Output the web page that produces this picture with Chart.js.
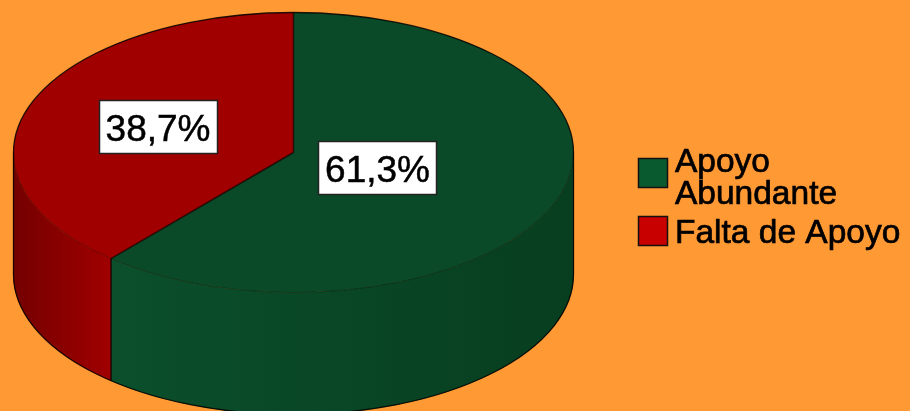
<!DOCTYPE html>
<html><head><meta charset="utf-8">
<script src="https://cdn.jsdelivr.net/npm/chart.js@4.4.1/dist/chart.umd.min.js"></script>
<style>html,body{margin:0;padding:0;background:#ff9933;overflow:hidden}#wrap{position:relative;width:910px;height:411px}</style>
</head><body><div id="wrap"><canvas id="c" width="910" height="411"></canvas></div>
<script>
// ---- data ----
const categories = ['Apoyo Abundante', 'Falta de Apoyo'];
const values = [61.3, 38.7];
const topColors = ['#0a4a28', '#a00000'];
const sideColorsLeft = ['#0b4f2c', '#740000'];
const sideColorsRight = ['#073e1f', '#a00000'];
const legendColors = ['#0a5a30', '#c80000'];

// ---- styling ----
const BG = '#ff9933';
const SX = 2;        // horizontal stretch of the pie (ellipse)
const DEPTH = 122;   // thickness of the cylinder
const LABEL_R = [0.32, 0.516];
const FONT = '"Liberation Sans", Arial, sans-serif';

function fmt(v, total) { return (v / total * 100).toFixed(1).replace('.', ',') + '%'; }

function frontSegments(s, e) {
  const segs = [];
  for (const off of [-2 * Math.PI, 0, 2 * Math.PI]) {
    const a = Math.max(s, off), b = Math.min(e, off + Math.PI);
    if (b > a) segs.push([a - off, b - off]);
  }
  return segs;
}

const pie3d = {
  id: 'pie3d',
  beforeDraw(chart) {
    const ctx = chart.ctx;
    ctx.save(); ctx.fillStyle = BG; ctx.fillRect(0, 0, chart.width, chart.height); ctx.restore();
  },
  beforeDatasetsDraw(chart) {
    const ctx = chart.ctx;
    const meta = chart.getDatasetMeta(0);
    const a0 = meta.data[0];
    const cx = a0.x, cy = a0.y, ry = a0.outerRadius, rx = ry * SX;
    ctx.save();
    meta.data.forEach((arc, i) => {
      frontSegments(arc.startAngle, arc.endAngle).forEach(([s, e]) => {
        const xs = cx + rx * Math.cos(s), xe = cx + rx * Math.cos(e);
        const g = ctx.createLinearGradient(Math.min(xs, xe), 0, Math.max(xs, xe), 0);
        g.addColorStop(0, sideColorsLeft[i]);
        g.addColorStop(1, sideColorsRight[i]);
        ctx.beginPath();
        ctx.ellipse(cx, cy, rx, ry, 0, s, e);
        ctx.ellipse(cx, cy + DEPTH, rx, ry, 0, e, s, true);
        ctx.closePath();
        ctx.fillStyle = g; ctx.fill();
        ctx.strokeStyle = g; ctx.lineWidth = 0.6; ctx.stroke();
      });
    });
    ctx.restore();
    ctx.save();
    ctx.translate(cx, 0); ctx.scale(SX, 1); ctx.translate(-cx, 0);
  },
  afterDatasetsDraw(chart) {
    const ctx = chart.ctx;
    ctx.restore();
    const meta = chart.getDatasetMeta(0);
    const a0 = meta.data[0];
    const cx = a0.x, cy = a0.y, ry = a0.outerRadius, rx = ry * SX;
    ctx.save();
    // front edge of top face
    ctx.beginPath(); ctx.ellipse(cx, cy, rx, ry, 0, 0, Math.PI);
    ctx.strokeStyle = 'rgba(0,0,0,0.3)'; ctx.lineWidth = 1; ctx.stroke();
    // side boundaries
    meta.data.forEach(arc => {
      const a = arc.startAngle;
      const n = ((a % (2 * Math.PI)) + 2 * Math.PI) % (2 * Math.PI);
      if (n > 0.01 && n < Math.PI - 0.01) {
        const x = cx + rx * Math.cos(n), y = cy + ry * Math.sin(n);
        ctx.beginPath(); ctx.moveTo(x, y); ctx.lineTo(x, y + DEPTH);
        ctx.strokeStyle = 'rgba(0,0,0,0.75)'; ctx.lineWidth = 1.5; ctx.stroke();
      }
    });
    // radial edges on top
    meta.data.forEach(arc => {
      const a = arc.startAngle;
      ctx.beginPath(); ctx.moveTo(cx, cy);
      ctx.lineTo(cx + rx * Math.cos(a), cy + ry * Math.sin(a));
      ctx.strokeStyle = 'rgba(0,0,0,0.7)'; ctx.lineWidth = 1.5; ctx.stroke();
    });
    // silhouette
    ctx.beginPath();
    ctx.ellipse(cx, cy, rx, ry, 0, Math.PI, 2 * Math.PI);
    ctx.lineTo(cx + rx, cy + DEPTH);
    ctx.ellipse(cx, cy + DEPTH, rx, ry, 0, 0, Math.PI);
    ctx.closePath();
    ctx.strokeStyle = 'rgba(0,0,0,0.85)'; ctx.lineWidth = 1.3; ctx.stroke();
    // percentage labels
    const total = values.reduce((s, v) => s + v, 0);
    ctx.font = '37px ' + FONT;
    ctx.textBaseline = 'alphabetic'; ctx.textAlign = 'center';
    meta.data.forEach((arc, i) => {
      const mid = (arc.startAngle + arc.endAngle) / 2;
      const f = LABEL_R[i];
      const x = cx + rx * f * Math.cos(mid), y = cy + ry * f * Math.sin(mid);
      const t = fmt(values[i], total);
      const w = ctx.measureText(t).width + 14, h = 54;
      ctx.fillStyle = '#ffffff';
      ctx.fillRect(Math.round(x - w / 2), Math.round(y - h / 2), Math.round(w), h);
      ctx.strokeStyle = '#222'; ctx.lineWidth = 1.5;
      ctx.strokeRect(Math.round(x - w / 2) + 0.5, Math.round(y - h / 2) + 0.5, Math.round(w) - 1, h - 1);
      ctx.fillStyle = '#000';
      ctx.fillText(t, x, y + 13.5);
      ctx.strokeStyle = '#000'; ctx.lineWidth = 0.5;
      ctx.strokeText(t, x, y + 13.5);
    });
    ctx.restore();
  },
  afterDraw(chart) {
    const ctx = chart.ctx;
    const bx = 638, textX = 675, box = 30, lineH = 31.5, fs = 33.5;
    let y = 158;
    ctx.save();
    ctx.font = fs + 'px ' + FONT;
    ctx.textAlign = 'left'; ctx.textBaseline = 'alphabetic';
    const maxW = chart.width - textX - 2;
    categories.forEach((lab, i) => {
      const words = lab.split(' ');
      const lines = []; let cur = '';
      words.forEach(wd => {
        const test = cur ? cur + ' ' + wd : wd;
        if (ctx.measureText(test).width > maxW && cur) { lines.push(cur); cur = wd; } else cur = test;
      });
      lines.push(cur);
      ctx.fillStyle = legendColors[i];
      ctx.fillRect(bx, y, box, box);
      ctx.strokeStyle = '#111'; ctx.lineWidth = 1.5;
      ctx.strokeRect(bx + 0.5, y + 0.5, box - 1, box - 1);
      const c = y + box / 2;
      const capH = 0.716 * fs;
      ctx.fillStyle = '#000'; ctx.strokeStyle = '#000'; ctx.lineWidth = 0.7;
      lines.forEach((ln, k) => {
        const base = c - (lines.length - 1) * lineH / 2 + k * lineH + capH / 2 + (lines.length > 1 ? 3 : 0);
        ctx.fillText(ln, textX, base);
        ctx.strokeText(ln, textX, base);
      });
      y += Math.max(box, lines.length * lineH) - 5;
    });
    ctx.restore();
  }
};

new Chart(document.getElementById('c'), {
  type: 'pie',
  data: {
    labels: categories,
    datasets: [{
      data: values,
      backgroundColor: topColors,
      borderWidth: 0,
      radius: 140,
      clip: false
    }]
  },
  options: {
    responsive: false,
    devicePixelRatio: 1,
    animation: false,
    events: [],
    layout: { padding: { left: 0, right: 323, top: 0, bottom: 106 } },
    plugins: { legend: { display: false }, tooltip: { enabled: false } }
  },
  plugins: [pie3d]
});
</script>
</body></html>
